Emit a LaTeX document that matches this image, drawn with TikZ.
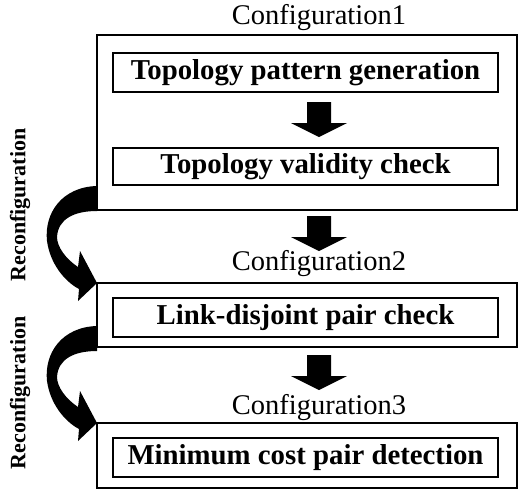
\documentclass[tikz,border=0pt]{standalone}
\usepackage{fontspec}
\setmainfont{Liberation Serif}

% block arrow going down from a top point
\newcommand{\flowarrow}[1]{%
	\fill (#1) ++(-12,0) -- ++(0,21) -- ++(-16,0) -- ++(28,14) -- ++(28,-14) -- ++(-16,0) -- ++(0,-21) -- cycle;}

% curved reconfiguration arrow, tip at (0,0)
\newcommand{\reconfarrow}[1]{%
	\fill[shift={(#1)}] (0,-97) .. controls (-35,-96) and (-53,-70) .. (-50,-42)
		.. controls (-47,-20) and (-33,-2) .. (-18,6) -- (-19,18) -- (0,0) -- (-17,-32) -- (-19,-16)
		.. controls (-31,-24) and (-40,-36) .. (-40,-46)
		.. controls (-39,-64) and (-23,-72) .. (0,-72) -- cycle;}

\tikzset{
	outerbox/.style={draw, line width=2.6pt, minimum width=420pt, inner sep=0pt, outer sep=0pt},
	stagebox/.style={draw, line width=1.8pt, minimum width=385pt, inner sep=0pt,
		font=\fontsize{28.8}{30}\selectfont\bfseries},
	conftitle/.style={anchor=base, font=\fontsize{28.5}{30}\selectfont},
	reconflabel/.style={rotate=90, font=\fontsize{22}{24}\selectfont\bfseries},
}

\begin{document}
\begin{tikzpicture}[x=1pt,y=-1pt]
	\useasboundingbox (0,0) rectangle (522,490);

	% Configuration 1
	\begin{scope}
		\node[conftitle] (title1) at (319,24) {Configuration1};
		\node[outerbox, minimum height=175pt] (conf1) at (307,122.5) {};
		\node[stagebox, minimum height=39pt] (topogen) at (305.5,72.5) {Topology pattern generation};
		\node[stagebox, minimum height=37pt] (topocheck) at (305.5,166.5) {Topology validity check};
		\coordinate (arrowone) at (319,102);
		\flowarrow{arrowone}
	\end{scope}

	% Configuration 2
	\begin{scope}
		\coordinate (arrowtwo) at (319,216);
		\flowarrow{arrowtwo}
		\node[conftitle] (title2) at (319,270) {Configuration2};
		\node[outerbox, minimum height=64pt] (conf2) at (307,315) {};
		\node[stagebox, minimum height=39pt] (linkcheck) at (305.5,317.5) {Link-disjoint pair check};
	\end{scope}

	% Configuration 3
	\begin{scope}
		\coordinate (arrowthree) at (319,355);
		\flowarrow{arrowthree}
		\node[conftitle] (title3) at (319,414) {Configuration3};
		\node[outerbox, minimum height=65pt] (conf3) at (307,455.5) {};
		\node[stagebox, minimum height=39pt] (mincost) at (305.5,457.5) {Minimum cost pair detection};
	\end{scope}

	% Reconfiguration arrows
	\reconfarrow{conf2.north west}
	\reconfarrow{conf3.north west}
	\node[reconflabel] (reconfone) at (20,205) {Reconfiguration};
	\node[reconflabel] (reconftwo) at (20,393) {Reconfiguration};
\end{tikzpicture}
\end{document}
